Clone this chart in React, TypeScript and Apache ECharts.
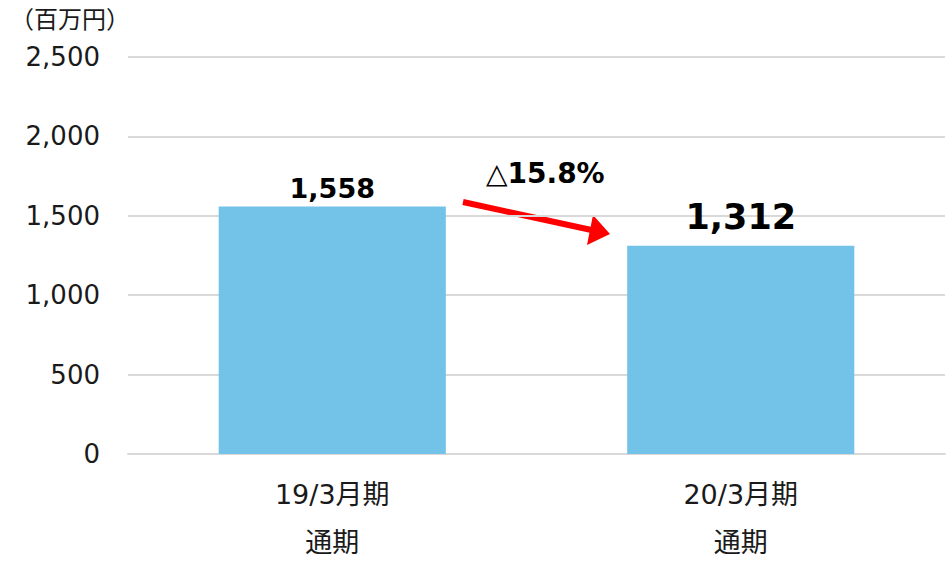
import React, { useEffect, useRef } from "react";
import * as echarts from "echarts";

const categories = ["19/3月期\n通期", "20/3月期\n通期"];
const values = [1558, 1312];
const valueLabelSizes = [27, 35];
const yTicks = [0, 500, 1000, 1500, 2000, 2500];
const unitLabel = "（百万円）";
const changeLabel = "△15.8%";

const FONT = "'DejaVu Sans', 'Noto Sans CJK JP', sans-serif";

export default function App() {
  const ref = useRef<HTMLDivElement>(null);
  useEffect(() => {
    if (!ref.current) return;
    const chart = echarts.init(ref.current, undefined, { renderer: "svg" });
    chart.setOption({
      animation: false,
      grid: {
        left: 128,
        right: 7,
        top: 57,
        bottom: 108,
        containLabel: false,
        outerBoundsMode: "none",
      },
      xAxis: {
        type: "category",
        data: categories,
        axisLine: { show: true, lineStyle: { color: "#d9d9d9", width: 2 } },
        axisTick: { show: false },
        axisLabel: {
          color: "#1a1a1a",
          fontSize: 27,
          lineHeight: 48,
          margin: 16,
          fontFamily: FONT,
        },
      },
      yAxis: {
        type: "value",
        min: yTicks[0],
        max: yTicks[yTicks.length - 1],
        interval: 500,
        axisLine: { show: false },
        axisTick: { show: false },
        splitLine: { lineStyle: { color: "#d9d9d9", width: 2 } },
        axisLabel: {
          color: "#1a1a1a",
          fontSize: 26,
          margin: 28,
          fontFamily: FONT,
          formatter: (v: number) => v.toLocaleString("en-US"),
        },
      },
      series: [
        {
          type: "bar",
          barWidth: "55.6%",
          itemStyle: { color: "#73C2E8" },
          data: values.map((v, i) => ({
            value: v,
            label: {
              show: true,
              position: "top",
              distance: i === 0 ? 5 : 11,
              fontSize: valueLabelSizes[i],
              fontWeight: "bold",
              color: "#000",
              fontFamily: FONT,
              formatter: (p: any) => Number(p.value).toLocaleString("en-US"),
            },
          })),
        },
      ],
      graphic: [
        {
          type: "text",
          left: 10,
          top: 8,
          style: { text: unitLabel, fontSize: 24, fill: "#1a1a1a", fontFamily: FONT },
        },
        {
          type: "text",
          x: 486,
          y: 159,
          style: {
            text: changeLabel,
            fontSize: 28,
            fontWeight: "bold",
            fill: "#000",
            fontFamily: FONT,
          },
        },
        {
          type: "line",
          shape: { x1: 463, y1: 202, x2: 596, y2: 231 },
          style: { stroke: "#FF0000", lineWidth: 6 },
        },
        {
          type: "polygon",
          shape: { points: [[610, 234], [593, 215], [587, 245]] },
          style: { fill: "#FF0000" },
        },
      ],
    });
    return () => chart.dispose();
  }, []);
  return <div ref={ref} style={{ width: 952, height: 562, position: "absolute", left: 0, top: 0 }} />;
}
